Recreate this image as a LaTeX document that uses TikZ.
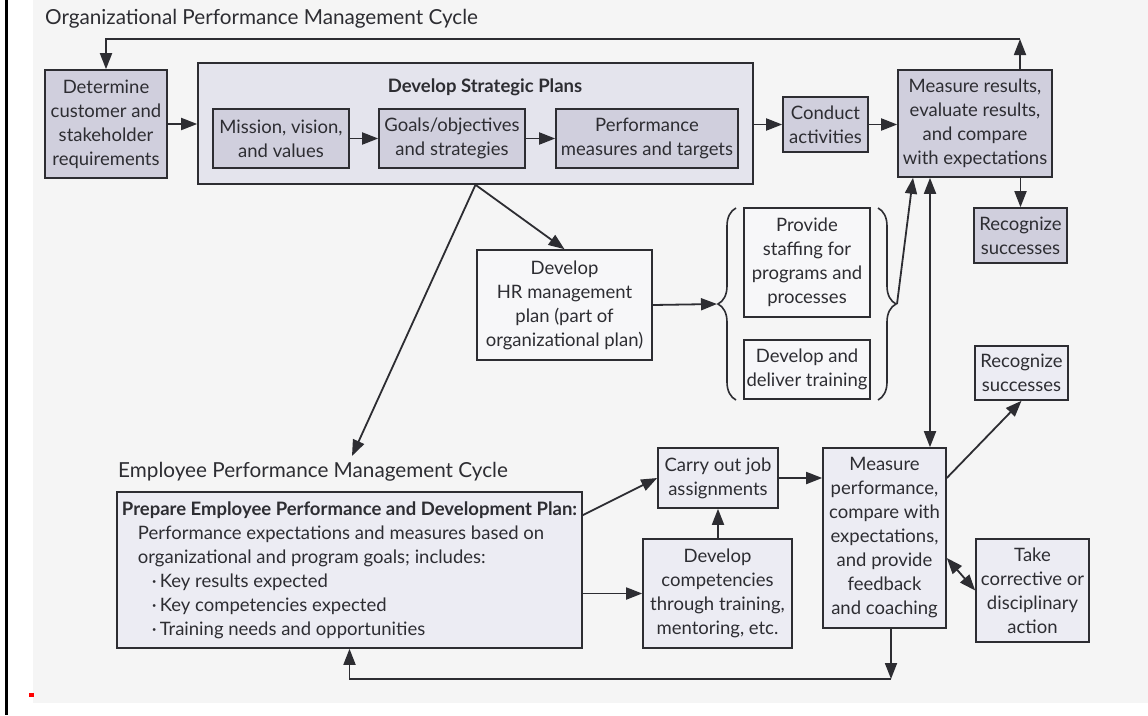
\documentclass[tikz,border=0pt]{standalone}
\usepackage{fontspec}
\setmainfont{Lato}
\usetikzlibrary{arrows.meta,decorations.pathreplacing,calc}

\definecolor{ink}{RGB}{45,45,50}
\definecolor{paper}{RGB}{245,245,245}
\definecolor{boxdark}{RGB}{208,207,221}
\definecolor{boxframe}{RGB}{228,228,237}
\definecolor{boxlight}{RGB}{236,236,243}
\definecolor{boxpale}{RGB}{247,247,249}

\tikzset{
  txt/.style={font=\fontsize{18.5}{24}\selectfont, text=ink},
  heading/.style={font=\fontsize{20.7}{24}\selectfont, text=ink, inner sep=0pt},
  box/.style={txt, draw=ink, line width=1.6pt, inner sep=0pt, align=center},
  sz/.style 2 args={minimum width=#1, minimum height=#2},
  dark/.style={box, fill=boxdark},
  light/.style={box, fill=boxlight},
  pale/.style={box, fill=boxpale},
  tip/.tip={Triangle[length=16pt,width=12pt]},
  arr/.style={draw=ink, line width=1.8pt, -tip},
  arrtwo/.style={draw=ink, line width=1.8pt, tip-tip},
  bracket/.style={draw=ink, line width=1.6pt, decorate, decoration={brace, amplitude=18pt}}
}

\begin{document}
\begin{tikzpicture}[x=1pt, y=-1pt]
\useasboundingbox (0,0) rectangle (1148,715);
% page ground and margin marks
\fill[white] (0,0) rectangle (1148,715);
\fill[paper] (33,0) rectangle (1148,703);
\fill[black] (5,0) rectangle (7.5,715);
\fill[red] (29,693) rectangle (34,696.5);

% ---------- organizational cycle ----------
\node[heading, anchor=west] (orgtitle) at (45,19) {Organizational Performance Management Cycle};

\node[dark, sz={122pt}{108pt}] (det) at (106,124) {Determine\\customer and\\stakeholder\\requirements};

\node[box, fill=boxframe, sz={555pt}{121pt}] (dsp) at (475.5,123.5) {};
\node[txt, font=\fontsize{18.5}{24}\selectfont\bfseries, inner sep=0pt] (dsptitle) at (485,87) {Develop Strategic Plans};
\node[dark, sz={136pt}{59pt}] (mis) at (281,138.5) {Mission, vision,\\and values};
\node[dark, sz={146pt}{59pt}] (goa) at (452,138.5) {Goals/objectives\\and strategies};
\node[dark, sz={182pt}{59pt}] (pmt) at (647,138.5) {Performance\\measures and targets};

\node[dark, sz={85pt}{55pt}] (con) at (825.5,124.5) {Conduct\\activities};
\node[dark, sz={154pt}{107pt}] (mrs) at (975,123.5) {Measure results,\\evaluate results,\\and compare\\with expectations};
\node[dark, sz={93pt}{55pt}] (rec1) at (1020.5,235.5) {Recognize\\successes};

\node[pale, sz={175pt}{110pt}] (hr) at (564.5,305) {Develop\\HR management\\plan (part of\\organizational plan)};
\node[pale, sz={126pt}{109pt}] (prov) at (807,262.5) {Provide\\staffing for\\programs and\\processes};
\node[pale, sz={126pt}{59pt}] (trn) at (807,369.5) {Develop and\\deliver training};
\node[light, sz={93pt}{54pt}] (rec2) at (1021.5,373) {Recognize\\successes};

% braces grouping the two HR activities
\coordinate (braceL) at (717,304);
\coordinate (braceR) at (897,304);
\draw[bracket] (736,400) -- (736,208);
\draw[bracket] (878,208) -- (878,400);

% ---------- employee cycle ----------
\node[heading, anchor=west] (emptitle) at (118,472) {Employee Performance Management Cycle};
\coordinate (empIn) at (352,456);

\node[light, sz={465pt}{156pt}, align=left] (prep) at (349.5,570)
  {{\bfseries Prepare Employee Performance and Development Plan:}\\
   \hspace*{16pt}Performance expectations and measures based on\\
   \hspace*{16pt}organizational and program goals; includes:\\
   \hspace*{30pt}\textperiodcentered\hspace{3pt}Key results expected\\
   \hspace*{30pt}\textperiodcentered\hspace{3pt}Key competencies expected\\
   \hspace*{30pt}\textperiodcentered\hspace{3pt}Training needs and opportunities};

\node[light, sz={120pt}{60pt}] (car) at (718,478) {Carry out job\\assignments};
\node[light, sz={149pt}{109pt}] (dev) at (717.5,593.5) {Develop\\competencies\\through training,\\mentoring, etc.};
\node[light, sz={123pt}{180pt}] (mpf) at (884.5,538) {Measure\\performance,\\compare with\\expectations,\\and provide\\feedback\\and coaching};
\node[light, sz={113pt}{103pt}] (tak) at (1032.5,590.5) {Take\\corrective or\\disciplinary\\action};

% ---------- connectors ----------
\coordinate (loopT) at (1020,39);
\draw[arr] (mrs.north -| loopT) -- (loopT);
\draw[arr] (loopT) -- (loopT -| det.north) -- (det.north);

\draw[arr] (det.east) -- (det.east -| dsp.west);
\draw[arr] (mis) -- (goa);
\draw[arr] (goa) -- (pmt);
\draw[arr] (dsp.east |- con.west) -- (con.west);
\draw[arr] (con.east) -- (con.east -| mrs.west);
\draw[arr] (mrs.south -| rec1.north) -- (rec1.north);

\draw[arr] (dsp.south) -- (hr.north);
\draw[arr] (dsp.south) -- (empIn);
\draw[arr] (hr.east) -- (braceL);
\draw[arr] (braceR) -- ([xshift=-62pt]mrs.south);
\draw[arrtwo] ([xshift=-45pt]mrs.south) -- ([xshift=-45pt]mrs.south |- mpf.north);

\draw[arr] (car.east -| mpf.east) -- (rec2.south);
\draw[arrtwo] ([yshift=-20pt]mpf.east) -- (tak.west);

\draw[arr] ([yshift=-24pt]prep.north east) -- (car.west);
\draw[arr] (prep.east |- dev.west) -- (dev.west);
\draw[arr] (dev.north -| car.south) -- (car.south);
\draw[arr] (car.east) -- (car.east -| mpf.west);

\coordinate (loopB) at (891,679);
\draw[arr] (mpf.south -| loopB) -- (loopB);
\draw[arr] (loopB) -- (loopB -| prep.south) -- (prep.south);
\end{tikzpicture}
\end{document}
